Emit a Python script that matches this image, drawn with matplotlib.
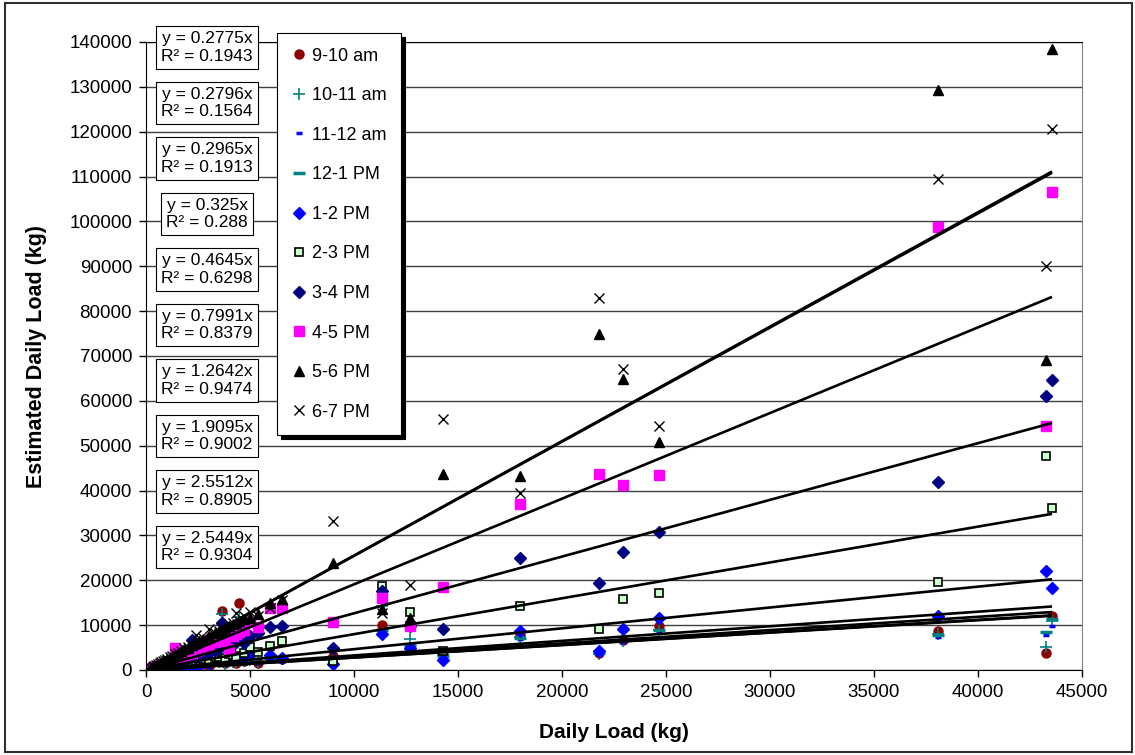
import numpy as np
import matplotlib.pyplot as plt
from matplotlib.lines import Line2D
from matplotlib.patches import Rectangle

plt.rcParams['font.family'] = ['Liberation Sans', 'DejaVu Sans']

# daily load (kg), shared by all hourly series
daily_load = [250, 320, 400, 480, 560, 650, 740, 830, 920, 1020, 1130, 1250, 1400, 1550, 1700,
              1850, 2000, 2200, 2400, 2550, 2750, 3050, 3300, 3500, 3650, 3800, 4000, 4200, 4350,
              4450, 4700, 5000, 5400, 5950, 6550, 8970, 11350, 12700, 14300, 17960, 21760, 22910,
              24650, 38100, 43270, 43560]

labels = ['9-10 am', '10-11 am', '11-12 am', '12-1 PM', '1-2 PM',
          '2-3 PM', '3-4 PM', '4-5 PM', '5-6 PM', '6-7 PM']

est_9_10 = [80, 120, 150, 200, 250, 180, 300, 350, 260, 400, 450, 380, 600, 500, 700, 650, 900, 800,
            1100, 900, 1300, 1000, 2500, 1800, 13200, 1500, 2200, 1900, 1600, 15000, 2000, 2400, 1500,
            2800, 2500, 3200, 10000, 4800, 3500, 7700, 3800, 6700, 9700, 8600, 3900, 12100]
est_10_11 = [70, 110, 160, 180, 230, 200, 280, 320, 300, 380, 420, 400, 550, 520, 650, 600, 850, 700,
             1000, 950, 1200, 1100, 2000, 1700, 12500, 1400, 2000, 1800, 1700, 11800, 1900, 2300, 1600,
             2600, 2400, 2900, 14300, 7000, 3300, 7300, 3600, 6500, 8900, 8000, 5200, 11000]
est_11_12 = [60, 100, 130, 170, 210, 190, 260, 300, 280, 350, 400, 360, 500, 480, 600, 560, 800, 650,
             950, 850, 1100, 1000, 1500, 1400, 3000, 1300, 1800, 1600, 1500, 2500, 1800, 2100, 1500,
             2500, 2300, 2700, 8000, 5000, 3000, 7000, 3500, 6300, 8400, 7400, 7700, 9800]
est_12_1 = [70, 110, 140, 190, 230, 200, 280, 320, 300, 380, 430, 400, 550, 520, 650, 600, 850, 700,
            1000, 900, 1200, 1100, 1700, 1500, 3500, 1400, 2000, 1800, 1700, 3000, 2000, 2300, 1700,
            2700, 2500, 2900, 9000, 5500, 3200, 7200, 3700, 6600, 9000, 7800, 8500, 11400]
est_1_2 = [100, 150, 200, 250, 300, 280, 380, 420, 400, 500, 560, 520, 750, 700, 900, 850, 1200, 1000,
           1500, 1300, 1800, 1600, 3500, 2500, 10500, 2200, 3000, 2800, 2500, 6000, 3000, 3500, 8300,
           3300, 2700, 1300, 8000, 5000, 2200, 8700, 4300, 9200, 11500, 12000, 22000, 18300]
est_2_3 = [150, 250, 300, 400, 450, 500, 600, 650, 700, 800, 900, 850, 1100, 1200, 1400, 1300, 1600,
           1500, 2000, 1800, 2400, 2000, 3000, 2800, 4000, 2600, 3500, 3300, 3000, 5000, 3800, 5100,
           4000, 5400, 6500, 1900, 18800, 13000, 4200, 14200, 9200, 15900, 17200, 19700, 47600, 36200]
est_3_4 = [250, 350, 450, 600, 700, 800, 900, 1000, 1100, 1300, 1400, 1500, 1800, 1900, 2200, 2300,
           2600, 6600, 3000, 3200, 3600, 3800, 4500, 5000, 10500, 5200, 6000, 5500, 6500, 7000, 6000,
           7600, 8300, 9600, 9800, 4800, 17700, 9800, 9200, 25000, 19300, 26200, 30800, 41900, 61000,
           64600]
est_4_5 = [300, 450, 600, 700, 900, 1000, 1200, 1300, 1500, 1700, 1900, 2100, 4850, 2800, 3000, 3300,
           3600, 3900, 4300, 4500, 5000, 5500, 6200, 6500, 8000, 7000, 4600, 7500, 8000, 8500, 9000,
           10600, 9500, 13900, 13800, 10700, 16000, 9800, 18600, 37000, 43700, 41300, 43500, 98800,
           54300, 106500]
est_5_6 = [400, 600, 800, 1000, 1200, 1400, 1600, 1900, 2100, 2400, 2700, 3000, 3400, 3800, 4200, 4600,
           5000, 5500, 6000, 6400, 7000, 7600, 8200, 8800, 9000, 9400, 9800, 10200, 10500, 11000, 11300,
           11500, 12500, 15000, 15800, 23800, 13500, 11700, 43700, 43200, 74800, 64800, 50900, 129300,
           69000, 138400]
est_6_7 = [450, 650, 900, 1100, 1300, 1500, 1800, 2000, 2300, 2500, 2800, 3100, 3500, 3900, 4300, 4800,
           5200, 5600, 7800, 6500, 7100, 9100, 8300, 8600, 9500, 9000, 10000, 10500, 12800, 11000,
           12000, 13000, 12000, 13800, 15500, 33300, 12800, 18900, 56000, 39400, 83000, 67000, 54400,
           109400, 90000, 120500]

series = [est_9_10, est_10_11, est_11_12, est_12_1, est_1_2,
          est_2_3, est_3_4, est_4_5, est_5_6, est_6_7]

# trendline (through origin) coefficients and R^2
slopes = [0.2775, 0.2796, 0.2965, 0.325, 0.4645, 0.7991, 1.2642, 1.9095, 2.5512, 2.5449]
r2 = [0.1943, 0.1564, 0.1913, 0.288, 0.6298, 0.8379, 0.9474, 0.9002, 0.8905, 0.9304]

# marker styles per series
styles = [
    dict(marker='o', color='#8B0000', ms=6.5, mec='#8B0000'),
    dict(marker='+', color='#008080', ms=8, mec='#008080', mew=1.2),
    dict(marker='_', color='#0000FF', ms=5, mec='#0000FF', mew=2.5),
    dict(marker='_', color='#008080', ms=8, mec='#008080', mew=2.5),
    dict(marker='D', color='#0000FF', ms=6, mec='#0000FF'),
    dict(marker='s', color='#CCFFCC', ms=6, mec='black', mew=1.2),
    dict(marker='D', color='#000080', ms=6, mec='#000080'),
    dict(marker='s', color='#FF00FF', ms=6.5, mec='#FF00FF'),
    dict(marker='^', color='black', ms=7, mec='black'),
    dict(marker='x', color='black', ms=7, mec='black', mew=1.0),
]

W, H = 1135, 755
fig = plt.figure(figsize=(W / 100, H / 100), dpi=100)
ax = fig.add_axes([146 / W, 1 - 670 / H, (1082 - 146) / W, (670 - 42) / H])

x = np.array(daily_load)
for ys, st, lab in zip(series, styles, labels):
    ax.plot(x, ys, linestyle='none', label=lab, zorder=2, **st)

xmax = x.max()
for k in slopes:
    ax.plot([0, xmax], [0, k * xmax], color='black', lw=1.9, zorder=3, solid_capstyle='butt')

ax.set_xlim(0, 45000)
ax.set_ylim(0, 140000)
ax.set_xticks(np.arange(0, 45001, 5000))
ax.set_yticks(np.arange(0, 140001, 10000))
ax.yaxis.grid(True, color='#404040', lw=1.0)
ax.set_axisbelow(True)
ax.tick_params(direction='out', length=5, width=1, labelsize=13.5, color='black', pad=5)
for s in ['left', 'bottom', 'top']:
    ax.spines[s].set_color('black')
ax.spines['right'].set_color('#808080')

ax.set_xlabel('Daily Load (kg)', fontsize=15, fontweight='bold', labelpad=16)
ax.set_ylabel('Estimated Daily Load (kg)', fontsize=15.5, fontweight='bold', labelpad=16)

# legend with a black drop shadow
handles = [Line2D([], [], linestyle='none', **st) for st in styles]
leg = ax.legend(handles, labels, loc='upper left', bbox_to_anchor=(0.140, 1.014),
                borderaxespad=0, fontsize=13, labelspacing=1.25, handlelength=0.8,
                handletextpad=0.35, borderpad=0.8, frameon=True, fancybox=False,
                shadow={'color': 'black', 'alpha': 1.0, 'ox': 3, 'oy': -3})
leg.get_frame().set_edgecolor('black')
leg.get_frame().set_linewidth(0.8)
leg.set_zorder(5)

# trendline equation boxes
for i, (k, r) in enumerate(zip(slopes, r2)):
    yc = 47.5 + 55.5 * i
    fig.text(207 / W, 1 - yc / H, f'y = {k}x\nR² = {r}', ha='center', va='center',
             fontsize=12.5, linespacing=1.2, zorder=6,
             bbox=dict(boxstyle='square,pad=0.3', fc='white', ec='black', lw=0.8))

# outer chart border
fig.add_artist(Rectangle((5 / W, 3 / H), 1127 / W, 749 / H, transform=fig.transFigure,
                         fill=False, ec='#303030', lw=1.5))

fig.savefig('out.png', dpi=100)
